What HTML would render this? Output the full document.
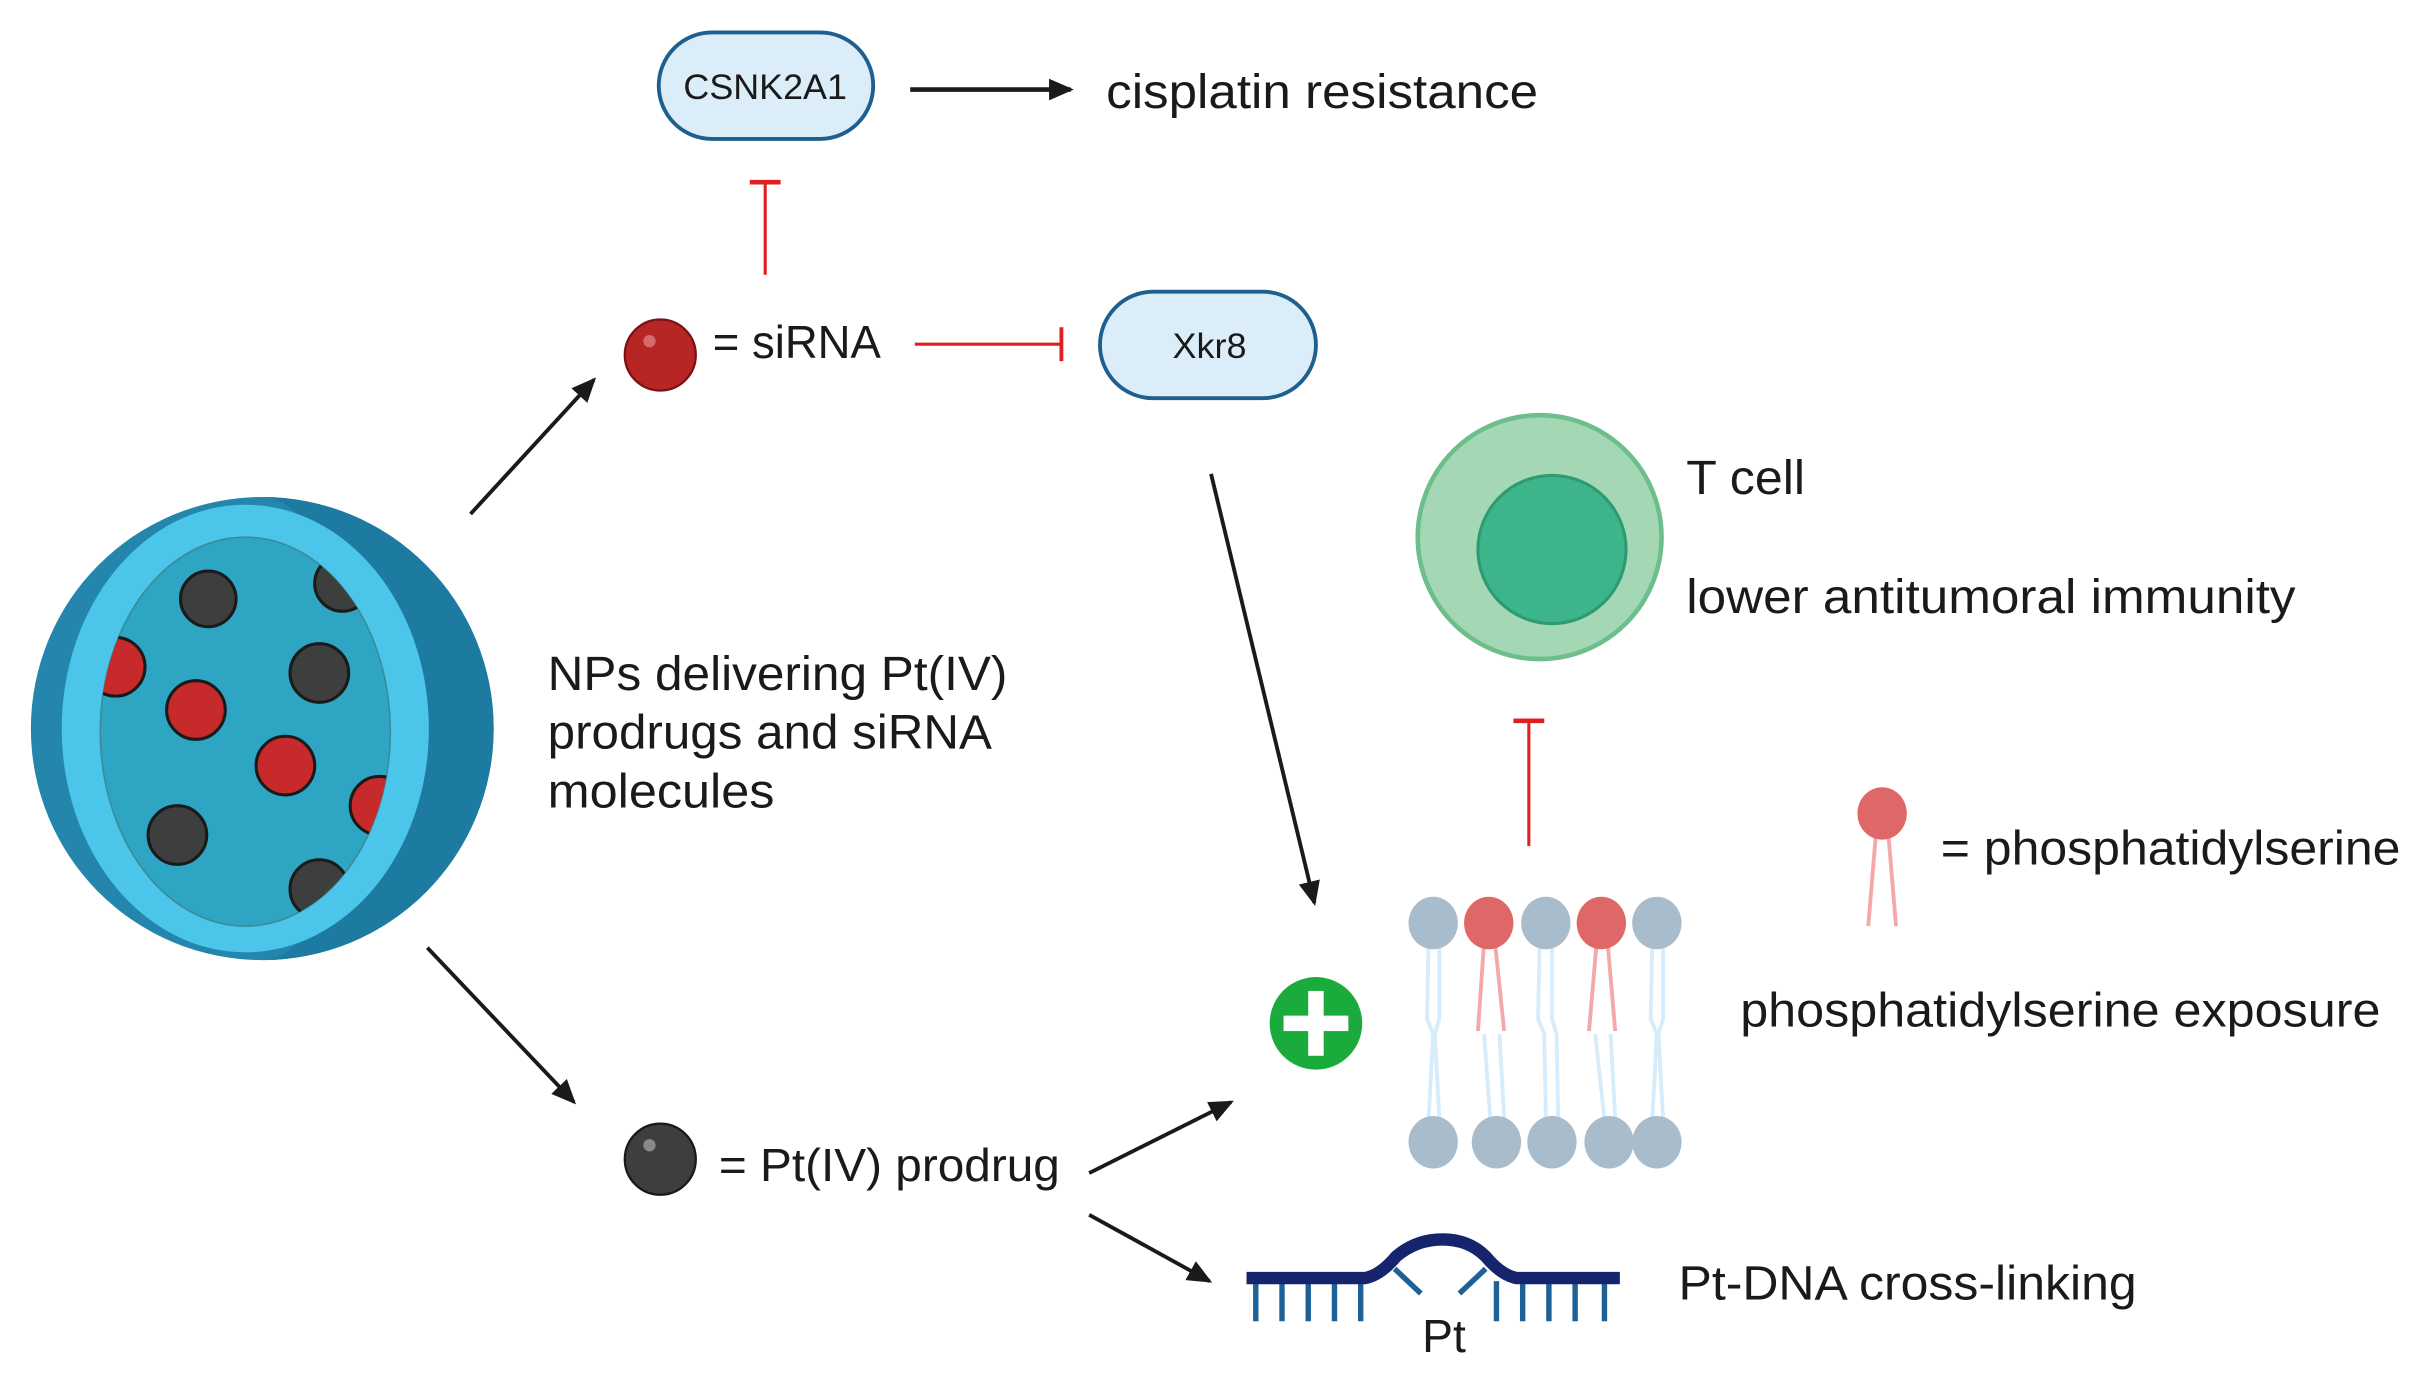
<!DOCTYPE html>
<html><head><meta charset="utf-8"><style>
html,body{margin:0;padding:0;background:#fff;}
svg{display:block;}
text{font-family:"Liberation Sans",sans-serif;fill:#1a1a1a;}
</style></head><body>
<svg width="2419" height="1383" viewBox="0 0 1568 896" preserveAspectRatio="none" xmlns="http://www.w3.org/2000/svg">
<defs>
<marker id="ah2" markerWidth="16" markerHeight="14" refX="14" refY="7" orient="auto" markerUnits="userSpaceOnUse">
<path d="M0,0 L16,7 L0,14 Z" fill="#1a1a1a"/></marker>
<clipPath id="cav"><ellipse cx="159" cy="474" rx="94" ry="126"/></clipPath>
</defs>

<circle cx="170" cy="472" r="150" fill="#2486ad"/>
<path d="M170,322 A150,150 0 0 1 170,622 A60,150 0 0 0 170,322 Z" fill="#1d7aa0"/>
<ellipse cx="159" cy="472" rx="119" ry="145" fill="#4cc5ea"/>
<ellipse cx="159" cy="474" rx="94" ry="126" fill="#2ea6c3" stroke="#3a8a9a" stroke-width="1"/>
<g clip-path="url(#cav)" stroke="#1a1a1a" stroke-width="2">
<circle cx="135" cy="388" r="18" fill="#3d3f3f"/>
<circle cx="222" cy="378" r="18" fill="#3d3f3f"/>
<circle cx="75" cy="432" r="19" fill="#c62a2a"/>
<circle cx="127" cy="460" r="19" fill="#c62a2a"/>
<circle cx="207" cy="436" r="19" fill="#3d3f3f"/>
<circle cx="185" cy="496" r="19" fill="#c62a2a"/>
<circle cx="115" cy="541" r="19" fill="#3d3f3f"/>
<circle cx="246" cy="522" r="19" fill="#c62a2a"/>
<circle cx="207" cy="576" r="19" fill="#3d3f3f"/>
</g>

<text x="355" y="447" font-size="31" textLength="298" lengthAdjust="spacingAndGlyphs">NPs delivering Pt(IV)</text>
<text x="355" y="485" font-size="31" textLength="288" lengthAdjust="spacingAndGlyphs">prodrugs and siRNA</text>
<text x="355" y="523" font-size="31" textLength="147" lengthAdjust="spacingAndGlyphs">molecules</text>

<line x1="305" y1="333" x2="385" y2="246" stroke="#1a1a1a" stroke-width="2.5" marker-end="url(#ah2)"/>
<line x1="277" y1="614" x2="372" y2="714" stroke="#1a1a1a" stroke-width="2.5" marker-end="url(#ah2)"/>

<rect x="427" y="21" width="139" height="69" rx="34.5" fill="#dcedfa" stroke="#1e5f8e" stroke-width="2.5"/>
<text x="496" y="64" font-size="23" text-anchor="middle" textLength="106" lengthAdjust="spacingAndGlyphs">CSNK2A1</text>
<line x1="590" y1="58" x2="694" y2="58" stroke="#1a1a1a" stroke-width="3" marker-end="url(#ah2)"/>
<text x="717" y="70" font-size="31" textLength="280" lengthAdjust="spacingAndGlyphs">cisplatin resistance</text>

<line x1="496" y1="178" x2="496" y2="118" stroke="#e02020" stroke-width="2"/>
<line x1="486" y1="118" x2="506" y2="118" stroke="#e02020" stroke-width="3"/>
<circle cx="428" cy="230" r="23" fill="#b82525" stroke="#7a1414" stroke-width="1.5"/>
<circle cx="421" cy="221" r="4" fill="#d86a6a"/>
<text x="462" y="232" font-size="30" textLength="109" lengthAdjust="spacingAndGlyphs">= siRNA</text>
<line x1="593" y1="223" x2="688" y2="223" stroke="#e02020" stroke-width="2"/>
<line x1="688" y1="212" x2="688" y2="234" stroke="#e02020" stroke-width="2.5"/>

<rect x="713" y="189" width="140" height="69" rx="34.5" fill="#dcedfa" stroke="#1e5f8e" stroke-width="2.5"/>
<text x="784" y="232" font-size="23" text-anchor="middle" textLength="48" lengthAdjust="spacingAndGlyphs">Xkr8</text>
<line x1="785" y1="307" x2="852" y2="585" stroke="#1a1a1a" stroke-width="2.5" marker-end="url(#ah2)"/>

<circle cx="998" cy="348" r="79" fill="#a4d8b4" stroke="#6cbf8a" stroke-width="3"/>
<circle cx="1006" cy="356" r="48" fill="#3db58a" stroke="#2e9a74" stroke-width="2"/>
<text x="1093" y="320" font-size="31" textLength="77" lengthAdjust="spacingAndGlyphs">T cell</text>
<text x="1093" y="397" font-size="31" textLength="395" lengthAdjust="spacingAndGlyphs">lower antitumoral immunity</text>
<line x1="991" y1="548" x2="991" y2="467" stroke="#e02020" stroke-width="2"/>
<line x1="981" y1="467" x2="1001" y2="467" stroke="#e02020" stroke-width="3"/>

<path d="M1216,540 L1211,600 M1224,540 L1229,600" stroke="#f5a8a8" stroke-width="2.5" fill="none"/>
<ellipse cx="1220" cy="527" rx="16" ry="17" fill="#e06767"/>
<text x="1258" y="560" font-size="31" textLength="298" lengthAdjust="spacingAndGlyphs">= phosphatidylserine</text>

<g stroke="#d6ecfb" stroke-width="2.5" fill="none">
<path d="M926,610 L925,660 L929,670 L926,725 M933,610 L933,660 L930,670 L933,725"/>
<path d="M998,610 L997,660 L1001,670 L1002,725 M1006,610 L1006,660 L1009,670 L1010,725"/>
<path d="M1071,610 L1070,660 L1074,670 L1071,725 M1078,610 L1078,660 L1075,670 L1078,725"/>
<path d="M962,670 L966,725 M972,670 L975,725"/>
<path d="M1034,670 L1040,725 M1044,670 L1047,725"/>
</g>
<g stroke="#f5a8a8" stroke-width="2.5" fill="none">
<path d="M962,610 L958,668 M969,610 L975,668"/>
<path d="M1035,610 L1030,668 M1042,610 L1047,668"/>
</g>
<g>
<ellipse cx="929" cy="598" rx="16" ry="17" fill="#a9bccb"/>
<ellipse cx="965" cy="598" rx="16" ry="17" fill="#e06767"/>
<ellipse cx="1002" cy="598" rx="16" ry="17" fill="#a9bccb"/>
<ellipse cx="1038" cy="598" rx="16" ry="17" fill="#e06767"/>
<ellipse cx="1074" cy="598" rx="16" ry="17" fill="#a9bccb"/>
<ellipse cx="929" cy="740" rx="16" ry="17" fill="#a9bccb"/>
<ellipse cx="970" cy="740" rx="16" ry="17" fill="#a9bccb"/>
<ellipse cx="1006" cy="740" rx="16" ry="17" fill="#a9bccb"/>
<ellipse cx="1043" cy="740" rx="16" ry="17" fill="#a9bccb"/>
<ellipse cx="1074" cy="740" rx="16" ry="17" fill="#a9bccb"/>
</g>

<circle cx="853" cy="663" r="30" fill="#1aab3c"/>
<rect x="848" y="642" width="10" height="42" fill="#fff"/>
<rect x="832" y="658" width="42" height="10" fill="#fff"/>
<text x="1128" y="665" font-size="31" textLength="415" lengthAdjust="spacingAndGlyphs">phosphatidylserine exposure</text>

<circle cx="428" cy="751" r="23" fill="#3d3f3f" stroke="#1a1a1a" stroke-width="1.5"/>
<circle cx="421" cy="742" r="4" fill="#888"/>
<text x="466" y="765" font-size="30" textLength="221" lengthAdjust="spacingAndGlyphs">= Pt(IV) prodrug</text>
<line x1="706" y1="760" x2="798" y2="714" stroke="#1a1a1a" stroke-width="2.5" marker-end="url(#ah2)"/>
<line x1="706" y1="787" x2="784" y2="830" stroke="#1a1a1a" stroke-width="2.5" marker-end="url(#ah2)"/>

<g stroke="#1d6196" stroke-width="3.5">
<line x1="814" y1="830" x2="814" y2="856"/><line x1="831" y1="830" x2="831" y2="856"/>
<line x1="848" y1="830" x2="848" y2="856"/><line x1="865" y1="830" x2="865" y2="856"/>
<line x1="882" y1="830" x2="882" y2="856"/>
<line x1="970" y1="830" x2="970" y2="856"/><line x1="987" y1="830" x2="987" y2="856"/>
<line x1="1004" y1="830" x2="1004" y2="856"/><line x1="1021" y1="830" x2="1021" y2="856"/>
<line x1="1040" y1="830" x2="1040" y2="856"/>
<line x1="904" y1="822" x2="921" y2="838"/><line x1="963" y1="822" x2="946" y2="838"/>
</g>
<path d="M808,828 L885,828 Q895,826 905,814 Q918,803 935,803 Q952,803 963,814 Q973,826 983,828 L1050,828" stroke="#16246e" stroke-width="8" fill="none"/>
<text x="936" y="876" font-size="30" text-anchor="middle">Pt</text>
<text x="1088" y="842" font-size="31" textLength="297" lengthAdjust="spacingAndGlyphs">Pt-DNA cross-linking</text>
</svg>
</body></html>
